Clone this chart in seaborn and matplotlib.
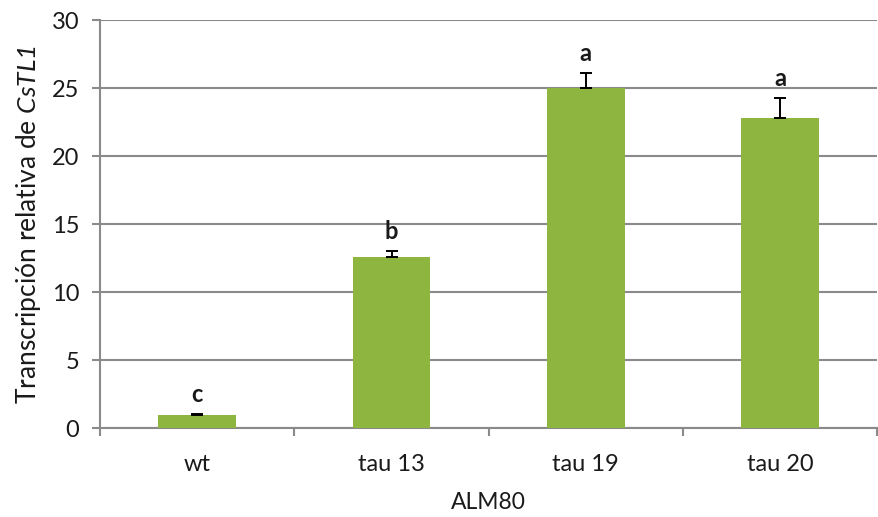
import matplotlib
matplotlib.use("Agg")
import matplotlib.pyplot as plt
import seaborn as sns
import pandas as pd
import numpy as np

# Data
lines = ["wt", "tau 13", "tau 19", "tau 20"]
expression = [0.95, 12.6, 25.0, 22.8]
error_up = [0.1, 0.4, 1.1, 1.5]
letters = ["c", "b", "a", "a"]

sns.set_theme(style="white")
plt.rcParams["font.family"] = ["Lato", "DejaVu Sans"]
plt.rcParams["mathtext.fontset"] = "custom"
plt.rcParams["mathtext.it"] = "Lato:italic"
plt.rcParams["mathtext.rm"] = "Lato:italic"

df = pd.DataFrame({"line": lines, "expr": expression})

fig = plt.figure(figsize=(8.79, 5.17), dpi=100)
ax = fig.add_axes([0.114, 0.172, 0.884, 0.789])

sns.barplot(data=df, x="line", y="expr", color="#8db53f", saturation=1,
            width=0.4, ax=ax, zorder=3, linewidth=0, edgecolor="none")

# upper-only error bars
x = np.arange(len(lines))
ax.errorbar(x, expression, yerr=[np.zeros(len(lines)), error_up], fmt="none",
            ecolor="black", elinewidth=1.4, capsize=4, capthick=1.4, zorder=4)

# significance letters
for xi, v, e, lab in zip(x, expression, error_up, letters):
    ax.text(xi, v + e + 0.6, lab, ha="center", va="bottom", fontsize=17,
            fontweight="bold", color="#1a1a1a", zorder=5)

ax.set_ylim(0, 30)
ax.set_xlim(-0.5, 3.5)
ax.set_yticks(range(0, 31, 5))
ax.yaxis.grid(True, color="#8a8a8a", linewidth=1.5, zorder=0)
ax.set_axisbelow(True)

for side in ["top", "right"]:
    ax.spines[side].set_visible(False)
for side in ["left", "bottom"]:
    ax.spines[side].set_color("#8a8a8a")
    ax.spines[side].set_linewidth(1.5)

ax.tick_params(axis="y", which="major", left=True, length=6, width=1.5,
               color="#8a8a8a", labelsize=17, pad=9, labelcolor="#1a1a1a")
ax.tick_params(axis="x", which="major", bottom=False, labelsize=17, pad=13,
               labelcolor="#1a1a1a")
ax.set_xticks([-0.5, 0.5, 1.5, 2.5, 3.5], minor=True)
ax.tick_params(axis="x", which="minor", bottom=True, length=6, width=1.5,
               color="#8a8a8a")

ax.set_xlabel("ALM80", fontsize=16.5, labelpad=12, color="#1a1a1a")
ax.set_ylabel(r"Transcripción relativa de $CsTL1$", fontsize=19,
              labelpad=6, color="#1a1a1a")

fig.savefig("out.png", dpi=100, facecolor="white")
